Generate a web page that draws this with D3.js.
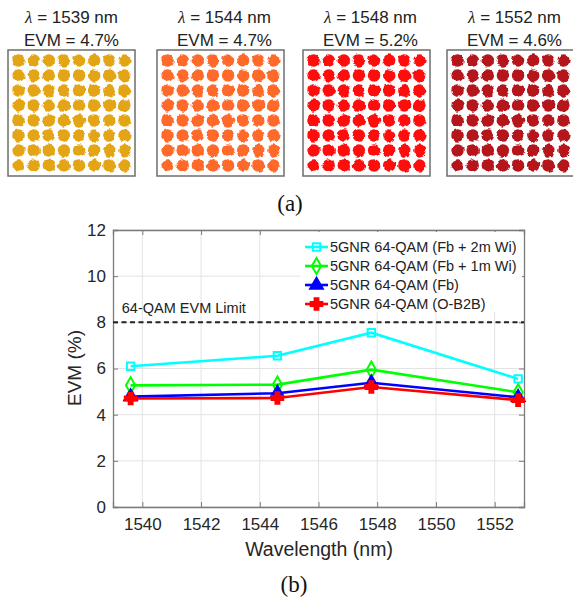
<!DOCTYPE html>
<html lang="en">
<head>
<meta charset="UTF-8">
<title>EVM vs Wavelength</title>
<script src="https://d3js.org/d3.v7.min.js"></script>
<style>
  * { margin: 0; padding: 0; }
  body { background: #fff; }
  svg { display: block; font-family: "Liberation Sans", Arial, sans-serif; }
</style>
</head>
<body>
<script>
// (a) constellation panels
var panelWavelengths = [1539, 1544, 1548, 1552];
var panelEvm = [4.7, 4.7, 5.2, 4.6];
var panelColors = ["#e3a514", "#ff6a2b", "#ff0b0b", "#b5121b"];
var qamLevels = [-7, -5, -3, -1, 1, 3, 5, 7];

// (b) EVM vs wavelength
var seriesNames = ["5GNR 64-QAM (Fb + 2m Wi)", "5GNR 64-QAM (Fb + 1m Wi)", "5GNR 64-QAM (Fb)", "5GNR 64-QAM (O-B2B)"];
var seriesColors = ["#00ffff", "#00ff00", "#0000ff", "#ff0000"];
var wavelengths = [1539.6, 1544.6, 1547.8, 1552.8];
var evmFb2m = [6.1, 6.55, 7.55, 5.55];
var evmFb1m = [5.27, 5.3, 5.95, 4.97];
var evmFb = [4.78, 4.93, 5.38, 4.75];
var evmB2B = [4.7, 4.72, 5.2, 4.63];
var xTicks = [1540, 1542, 1544, 1546, 1548, 1550, 1552];
var yTicks = [0, 2, 4, 6, 8, 10, 12];
var evmLimit = 8;

(function () {
  var width = 573, height = 599;
  var svg = d3.select("body").append("svg")
    .attr("width", width)
    .attr("height", height);

  // rough edge filter for the constellation clouds
  var defs = svg.append("defs");
  var filt = defs.append("filter").attr("id", "rough")
    .attr("x", "-5%").attr("y", "-5%").attr("width", "110%").attr("height", "110%");
  filt.append("feTurbulence").attr("type", "fractalNoise")
    .attr("baseFrequency", 0.2).attr("numOctaves", 2).attr("seed", 3).attr("result", "noise");
  filt.append("feDisplacementMap").attr("in", "SourceGraphic").attr("in2", "noise")
    .attr("scale", 3.5).attr("xChannelSelector", "R").attr("yChannelSelector", "G");

  // ---- (a) ----
  var panelX = [8, 157, 303, 447];
  var panelW = 127, panelH = 126, panelTop = 50;

  panelWavelengths.forEach(function (wl, i) {
    var g = svg.append("g").attr("transform", "translate(" + panelX[i] + "," + panelTop + ")");
    var cx = d3.scaleLinear().domain([-8.4, 8.4]).range([0, panelW]);
    var cy = d3.scaleLinear().domain([8.4, -8.4]).range([0, panelH]);

    var pts = [];
    qamLevels.forEach(function (a) { qamLevels.forEach(function (b) { pts.push([a, b]); }); });

    g.append("g").attr("filter", "url(#rough)")
      .selectAll("circle").data(pts).enter().append("circle")
      .attr("cx", function (d) { return cx(d[0]); })
      .attr("cy", function (d) { return cy(d[1]); })
      .attr("r", 6.2)
      .attr("fill", panelColors[i]);

    g.append("rect")
      .attr("x", 0).attr("y", 0)
      .attr("width", panelW).attr("height", panelH)
      .attr("fill", "none").attr("stroke", "#6e6e6e").attr("stroke-width", 1.5);

    var mid = panelW / 2 + (i === 0 ? 0 : 4);
    var t1 = g.append("text").attr("x", mid).attr("y", -27)
      .attr("text-anchor", "middle").attr("font-size", 17).attr("fill", "#222");
    t1.append("tspan").attr("font-family", "Liberation Serif, serif").attr("font-style", "italic").text("λ");
    t1.append("tspan").text(" = " + wl + " nm");
    g.append("text").attr("x", mid).attr("y", -4)
      .attr("text-anchor", "middle").attr("font-size", 17).attr("fill", "#222")
      .text("EVM = " + panelEvm[i] + "%");
  });

  svg.append("text").attr("x", 290).attr("y", 211)
    .attr("text-anchor", "middle").attr("font-family", "Liberation Serif, serif")
    .attr("font-size", 23).attr("fill", "#111").text("(a)");

  // ---- (b) ----
  var pLeft = 113, pRight = 524, pTop = 230, pBottom = 507;
  var x = d3.scaleLinear().domain([1539, 1553]).range([pLeft, pRight]);
  var y = d3.scaleLinear().domain([0, 12]).range([pBottom, pTop]);

  var plot = svg.append("g");

  // grid
  plot.append("g").selectAll("line").data(xTicks).enter().append("line")
    .attr("x1", function (d) { return x(d); }).attr("x2", function (d) { return x(d); })
    .attr("y1", pTop).attr("y2", pBottom)
    .attr("stroke", "#e3e3e3").attr("stroke-width", 1);
  plot.append("g").selectAll("line").data(yTicks).enter().append("line")
    .attr("y1", function (d) { return y(d); }).attr("y2", function (d) { return y(d); })
    .attr("x1", pLeft).attr("x2", pRight)
    .attr("stroke", "#e3e3e3").attr("stroke-width", 1);

  // axes
  var xAxis = plot.append("g").attr("transform", "translate(0," + pBottom + ")")
    .call(d3.axisBottom(x).tickValues(xTicks).tickSize(-5).tickPadding(11).tickFormat(d3.format("d")));
  var xAxisTop = plot.append("g").attr("transform", "translate(0," + pTop + ")")
    .call(d3.axisTop(x).tickValues(xTicks).tickSize(-5).tickFormat(""));
  var yAxis = plot.append("g").attr("transform", "translate(" + pLeft + ",0)")
    .call(d3.axisLeft(y).tickValues(yTicks).tickSize(-5).tickPadding(7));
  var yAxisRight = plot.append("g").attr("transform", "translate(" + pRight + ",0)")
    .call(d3.axisRight(y).tickValues(yTicks).tickSize(-5).tickFormat(""));

  [xAxis, xAxisTop, yAxis, yAxisRight].forEach(function (a) {
    a.select(".domain").attr("stroke", "#7a7a7a").attr("stroke-width", 1.3);
    a.selectAll(".tick line").attr("stroke", "#7a7a7a");
    a.selectAll("text").attr("font-family", "Liberation Sans, Arial, sans-serif")
      .attr("font-size", 17).attr("fill", "#262626");
  });

  // axis titles
  svg.append("text").attr("x", 319).attr("y", 556)
    .attr("text-anchor", "middle").attr("font-size", 19.5).attr("fill", "#262626")
    .text("Wavelength (nm)");
  svg.append("text").attr("transform", "translate(81,368) rotate(-90)")
    .attr("text-anchor", "middle").attr("font-size", 19).attr("fill", "#262626")
    .text("EVM (%)");
  svg.append("text").attr("x", 294).attr("y", 592)
    .attr("text-anchor", "middle").attr("font-family", "Liberation Serif, serif")
    .attr("font-size", 23).attr("fill", "#111").text("(b)");

  // EVM limit
  plot.append("line")
    .attr("x1", pLeft).attr("x2", pRight)
    .attr("y1", y(evmLimit)).attr("y2", y(evmLimit))
    .attr("stroke", "#222").attr("stroke-width", 2).attr("stroke-dasharray", "5,3.5");
  plot.append("text").attr("x", x(1539.3)).attr("y", y(evmLimit) - 9)
    .attr("font-size", 14.5).attr("fill", "#222").text("64-QAM EVM Limit");

  // series
  var seriesData = [evmFb2m, evmFb1m, evmFb, evmB2B];
  var seriesSymbols = [d3.symbolSquare, d3.symbolDiamond, d3.symbolTriangle, d3.symbolCross];
  var symbolSizes = [55, 75, 70, 75];
  var symbolFilled = [false, false, true, true];

  var line = d3.line()
    .x(function (d, i) { return x(wavelengths[i]); })
    .y(function (d) { return y(d); });

  function drawMarker(g, k, px, py) {
    g.append("path")
      .attr("transform", "translate(" + px + "," + py + ")")
      .attr("d", d3.symbol().type(seriesSymbols[k]).size(symbolSizes[k])())
      .attr("fill", symbolFilled[k] ? seriesColors[k] : "none")
      .attr("stroke", seriesColors[k])
      .attr("stroke-width", 2);
  }

  seriesData.forEach(function (vals, k) {
    var g = plot.append("g");
    g.append("path").datum(vals)
      .attr("d", line)
      .attr("fill", "none")
      .attr("stroke", seriesColors[k])
      .attr("stroke-width", 2.6);
    vals.forEach(function (v, i) { drawMarker(g, k, x(wavelengths[i]), y(v)); });
  });

  // legend
  var leg = svg.append("g");
  leg.append("rect").attr("x", 300).attr("y", 232).attr("width", 222).attr("height", 80)
    .attr("fill", "#fff");
  seriesNames.forEach(function (name, k) {
    var ly = 247 + k * 19;
    leg.append("line").attr("x1", 305).attr("x2", 328).attr("y1", ly).attr("y2", ly)
      .attr("stroke", seriesColors[k]).attr("stroke-width", 2.6);
    drawMarker(leg, k, 316.5, ly);
    leg.append("text").attr("x", 330).attr("y", ly + 5)
      .attr("font-size", 14.5).attr("fill", "#222").text(name);
  });
})();
</script>
</body>
</html>
